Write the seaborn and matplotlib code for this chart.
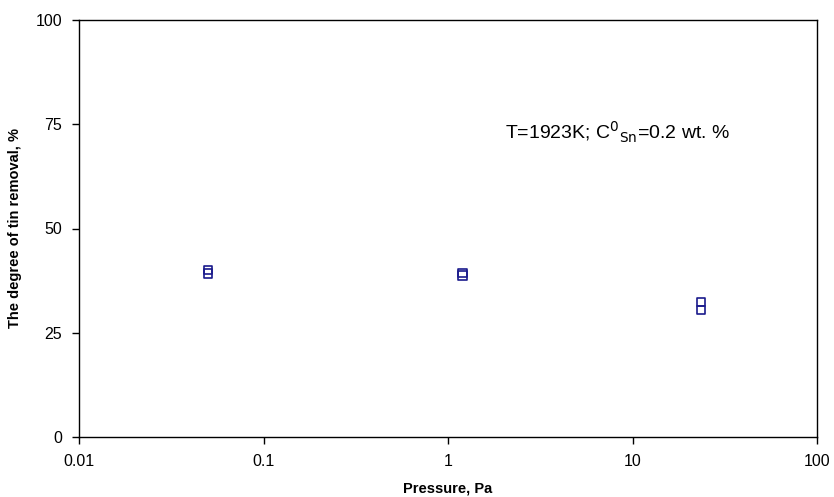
import numpy as np
import pandas as pd
import matplotlib
matplotlib.use("Agg")
import matplotlib.pyplot as plt
import seaborn as sns

# Data
pressure = [0.05, 0.05, 1.2, 1.2, 23.5, 23.5]
removal = [40.0, 39.2, 39.3, 38.7, 32.3, 30.4]

x_ticks = [0.01, 0.1, 1, 10, 100]
x_tick_labels = ["0.01", "0.1", "1", "10", "100"]
y_ticks = [0, 25, 50, 75, 100]

data = pd.DataFrame({"Pressure": pressure, "Removal": removal})

sns.set_style("white")
plt.rcParams['font.family'] = ['Liberation Sans', 'DejaVu Sans']
plt.rcParams['text.color'] = 'black'
plt.rcParams['axes.labelcolor'] = 'black'
plt.rcParams['xtick.color'] = 'black'
plt.rcParams['ytick.color'] = 'black'

fig = plt.figure(figsize=(8.34, 4.97), dpi=100)
ax = fig.add_axes([79 / 834, 1 - 437 / 497, 738 / 834, 417 / 497])

sns.scatterplot(x="Pressure", y="Removal", data=data, marker="s", s=36,
                facecolor="none", edgecolor="#1a1a8c", linewidth=1.2, ax=ax)

ax.set_xscale("log")
ax.set_xlim(0.01, 100)
ax.set_ylim(0, 100)
ax.set_xticks(x_ticks)
ax.set_xticklabels(x_tick_labels)
ax.set_yticks(y_ticks)
ax.minorticks_off()
ax.tick_params(axis="both", direction="out", length=5, width=1, color="black",
               labelcolor="black", labelsize=11.5, bottom=True, left=True, pad=7)
for sp in ax.spines.values():
    sp.set_color("black")
    sp.set_linewidth(1)

ax.set_xlabel("Pressure, Pa", fontsize=10.5, fontweight="bold", labelpad=9)
ax.set_ylabel("The degree of tin removal, %", fontsize=10.5, fontweight="bold", labelpad=10)

ax.text(0.577, 0.73, r"T=1923K; C$^{0}$$_{\rm Sn}$=0.2 wt. %", transform=ax.transAxes,
        fontsize=14, va="center", ha="left", color="black")

plt.savefig("out.png", dpi=100)
